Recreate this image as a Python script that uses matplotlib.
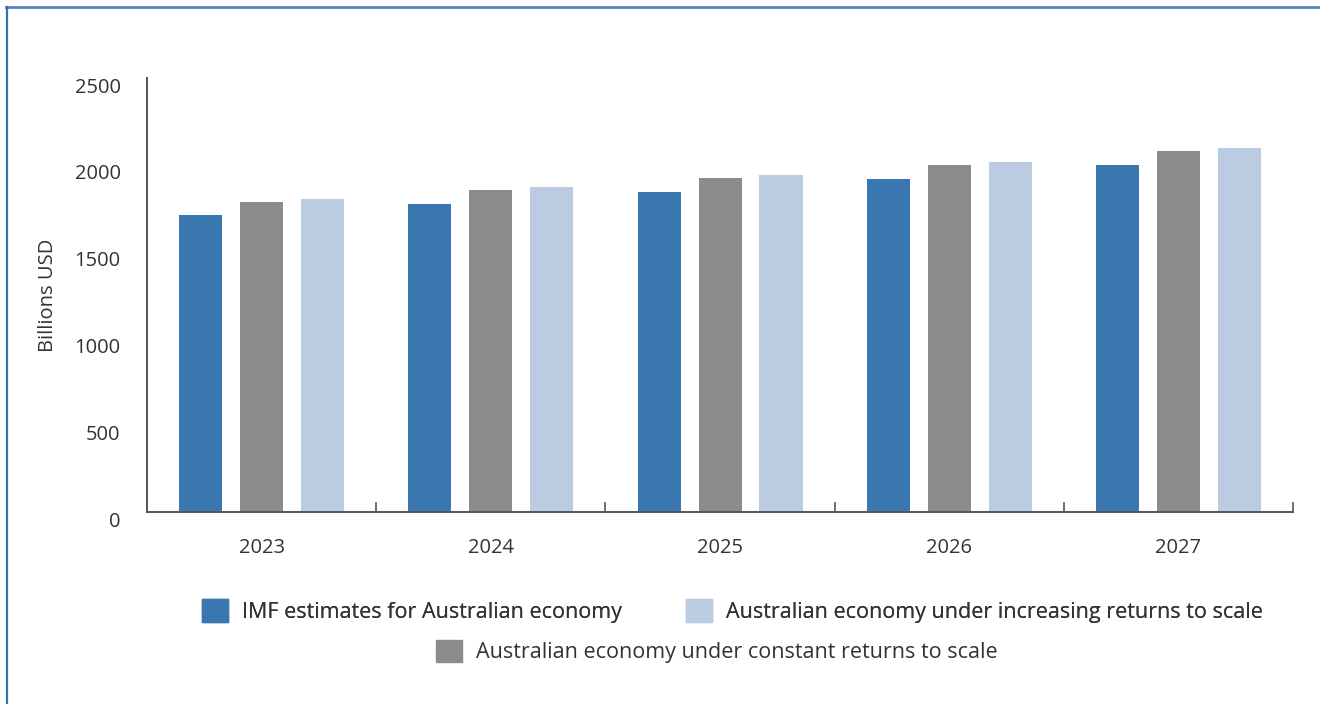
import numpy as np
import matplotlib.pyplot as plt
import matplotlib.transforms as mtransforms
from matplotlib.lines import Line2D
from matplotlib.patches import Patch

plt.rcParams['font.family'] = ['Open Sans', 'DejaVu Sans']

years = ['2023', '2024', '2025', '2026', '2027']
imf = [1711, 1774, 1843, 1918, 1999]
constant_rts = [1786, 1855, 1924, 1999, 2080]
increasing_rts = [1803, 1872, 1941, 2016, 2097]

c_imf = '#3a76af'
c_const = '#8b8b8d'
c_incr = '#bbcce2'
c_axis = '#555555'
c_text = '#333333'

fig = plt.figure(figsize=(13.2, 7.04), dpi=100)
ax = fig.add_axes([0.1114, 0.2727, 0.8682, 0.6165])

x = np.arange(len(years))
w = 0.188
off = 0.266
ax.bar(x - off, imf, w, color=c_imf)
ax.bar(x, constant_rts, w, color=c_const)
ax.bar(x + off, increasing_rts, w, color=c_incr)

ax.set_xlim(-0.5, len(years) - 0.5)
ax.set_ylim(0, 2500)
ax.set_yticks(np.arange(0, 2501, 500))

ax.set_xticks(x)
ax.set_xticklabels(years)
ax.tick_params(axis='x', which='major', length=0, pad=19, labelsize=14.5, labelcolor=c_text)
ax.set_xticks(np.arange(0.5, len(years) - 0.4, 1), minor=True)
ax.tick_params(axis='x', which='minor', direction='in', length=7, width=1.2, color=c_axis)
ax.tick_params(axis='y', length=0, pad=19, labelsize=14.5, labelcolor=c_text)

# nudge the y labels a little below their gridline positions
shift = mtransforms.ScaledTranslation(0, -7 / 100, fig.dpi_scale_trans)
for lab in ax.get_yticklabels():
    lab.set_transform(lab.get_transform() + shift)

for s in ['top', 'right']:
    ax.spines[s].set_visible(False)
for s in ['left', 'bottom']:
    ax.spines[s].set_color(c_axis)
    ax.spines[s].set_linewidth(1.4)

ax.set_ylabel('Billions USD', fontsize=14.5, color=c_text, labelpad=12)

legend_kw = dict(frameon=False, fontsize=15.5, handlelength=1.21, handleheight=1.21,
                 handletextpad=0.65, labelcolor=c_text, borderaxespad=0, borderpad=0)
leg1 = fig.legend(
    handles=[Patch(color=c_imf), Patch(color=c_incr)],
    labels=['IMF estimates for Australian economy',
            'Australian economy under increasing returns to scale'],
    ncol=2, columnspacing=3.0, loc='center', bbox_to_anchor=(0.5549, 0.132), **legend_kw)
fig.add_artist(leg1)
fig.legend(
    handles=[Patch(color=c_const)],
    labels=['Australian economy under constant returns to scale'],
    loc='center', bbox_to_anchor=(0.5428, 0.075), **legend_kw)

# thin blue frame along the top and left edges
fig.add_artist(Line2D([6 / 1320, 1], [1 - 7 / 704, 1 - 7 / 704],
                      transform=fig.transFigure, color='#4f86c0', lw=2))
fig.add_artist(Line2D([7 / 1320, 7 / 1320], [0, 1 - 7 / 704],
                      transform=fig.transFigure, color='#2f73b9', lw=1.6))

fig.savefig('out.png', dpi=100)
